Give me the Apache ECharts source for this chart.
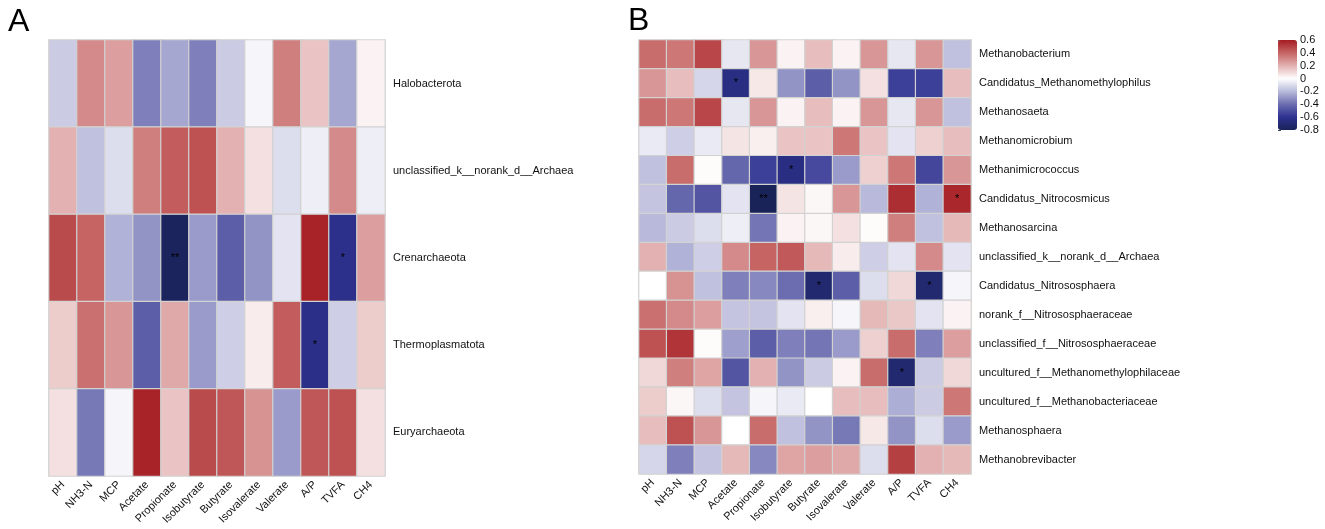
<!DOCTYPE html>
<html>
<head>
<meta charset="utf-8">
<script src="https://cdn.jsdelivr.net/npm/echarts@6/dist/echarts.min.js"></script>
<style>html,body{margin:0;padding:0;background:#fff}#c{width:1325px;height:529px}</style>
</head>
<body>
<div id="c"></div>
<script>
const factors = ['pH','NH3-N','MCP','Acetate','Propionate','Isobutyrate','Butyrate','Isovalerate','Valerate','A/P','TVFA','CH4'];
const phylaA = ['Halobacterota','unclassified_k__norank_d__Archaea','Crenarchaeota','Thermoplasmatota','Euryarchaeota'];
const generaB = ['Methanobacterium','Candidatus_Methanomethylophilus','Methanosaeta','Methanomicrobium','Methanimicrococcus','Candidatus_Nitrocosmicus','Methanosarcina','unclassified_k__norank_d__Archaea','Candidatus_Nitrososphaera','norank_f__Nitrososphaeraceae','unclassified_f__Nitrososphaeraceae','uncultured_f__Methanomethylophilaceae','uncultured_f__Methanobacteriaceae','Methanosphaera','Methanobrevibacter'];
const colorTicks = [0.6,0.4,0.2,0,-0.2,-0.4,-0.6,-0.8];

const corrA = [
  [-0.15, 0.30, 0.25,-0.35,-0.25,-0.35,-0.15,-0.03, 0.33, 0.15,-0.25, 0.03],
  [ 0.20,-0.18,-0.10, 0.33, 0.42, 0.45, 0.20, 0.08,-0.10,-0.05, 0.30,-0.05],
  [ 0.47, 0.40,-0.22,-0.30,-0.78,-0.28,-0.45,-0.30,-0.08, 0.58,-0.62, 0.25],
  [ 0.13, 0.37, 0.27,-0.45, 0.22,-0.28,-0.14, 0.05, 0.42,-0.63,-0.14, 0.13],
  [ 0.08,-0.37,-0.03, 0.58, 0.15, 0.47, 0.44, 0.28,-0.28, 0.44, 0.45, 0.08]
];
const sigA = [[2,4,'**'],[2,10,'*'],[3,9,'*']];

const corrB = [
  [ 0.38, 0.35, 0.48,-0.07, 0.27, 0.03, 0.17, 0.03, 0.27,-0.07, 0.27,-0.18],
  [ 0.27, 0.17,-0.12,-0.65, 0.06,-0.30,-0.45,-0.30, 0.08,-0.55,-0.55, 0.17],
  [ 0.38, 0.35, 0.48,-0.07, 0.27, 0.03, 0.17, 0.03, 0.27,-0.07, 0.27,-0.18],
  [-0.06,-0.14,-0.06, 0.07, 0.04, 0.15, 0.15, 0.35, 0.15,-0.08, 0.12, 0.17],
  [-0.18, 0.38, 0.01,-0.42,-0.55,-0.65,-0.52,-0.28, 0.12, 0.35,-0.53, 0.27],
  [-0.17,-0.42,-0.48,-0.08,-0.80, 0.07, 0.02, 0.27,-0.20, 0.55,-0.22, 0.57],
  [-0.20,-0.15,-0.10,-0.05,-0.38, 0.03, 0.02, 0.08, 0.01, 0.33,-0.18, 0.18],
  [ 0.20,-0.22,-0.14, 0.30, 0.40, 0.43, 0.18, 0.05,-0.14,-0.08, 0.30,-0.08],
  [ 0.00, 0.28,-0.18,-0.35,-0.33,-0.40,-0.72,-0.45,-0.10, 0.10,-0.72,-0.03],
  [ 0.37, 0.30, 0.25,-0.17,-0.17,-0.08, 0.04,-0.03, 0.18, 0.14,-0.08, 0.03],
  [ 0.45, 0.53, 0.01,-0.27,-0.45,-0.35,-0.38,-0.28, 0.12, 0.38,-0.35, 0.25],
  [ 0.10, 0.33, 0.23,-0.48, 0.20,-0.30,-0.15, 0.03, 0.38,-0.72,-0.15, 0.10],
  [ 0.13, 0.02,-0.10,-0.17,-0.03,-0.06, 0.00, 0.17, 0.17,-0.23,-0.15, 0.35],
  [ 0.17, 0.45, 0.27, 0.00, 0.38,-0.18,-0.30,-0.37, 0.06,-0.30,-0.10,-0.28],
  [-0.12,-0.35,-0.17, 0.18,-0.33, 0.23, 0.25, 0.22,-0.10, 0.50, 0.20, 0.18]
];
const sigB = [[1,3,'*'],[4,5,'*'],[5,4,'**'],[5,11,'*'],[8,6,'*'],[8,10,'*'],[11,9,'*']];

function build(vals, sig) {
  const m = {};
  sig.forEach(s => { m[s[0] + ',' + s[1]] = s[2]; });
  const d = [];
  vals.forEach((row, i) => row.forEach((v, j) => {
    d.push({ value: [j, i, v], mark: m[i + ',' + j] || '' });
  }));
  return d;
}

const FONT = "'Liberation Sans', Arial, sans-serif";
const chart = echarts.init(document.getElementById('c'), null, { renderer: 'canvas' });

function xAx(idx) {
  return {
    type: 'category', data: factors, gridIndex: idx,
    axisLine: { show: false }, axisTick: { show: false }, splitLine: { show: false },
    axisLabel: { rotate: 45, interval: 0, fontSize: 11, color: '#111', fontFamily: FONT, margin: 7 }
  };
}
function yAx(idx, cats) {
  return {
    type: 'category', data: cats, gridIndex: idx, inverse: true, position: 'right',
    axisLine: { show: false }, axisTick: { show: false }, splitLine: { show: false },
    axisLabel: { fontSize: 11, color: '#111', fontFamily: FONT, margin: 8 }
  };
}
function hm(idx, vals, sig) {
  return {
    type: 'heatmap', xAxisIndex: idx, yAxisIndex: idx, data: build(vals, sig),
    itemStyle: { borderColor: '#d2d2d2', borderWidth: 1.2 },
    label: { show: true, color: '#000', fontSize: 11, fontFamily: FONT,
      formatter: p => p.data.mark },
    emphasis: { disabled: true }
  };
}

chart.setOption({
  animation: false,
  backgroundColor: '#fff',
  title: [
    { text: 'A', left: 3, top: 1, textStyle: { fontSize: 32, fontWeight: 'normal', color: '#000', fontFamily: FONT } },
    { text: 'B', left: 623, top: 0, textStyle: { fontSize: 32, fontWeight: 'normal', color: '#000', fontFamily: FONT } }
  ],
  grid: [
    { left: 49, top: 40, width: 336, height: 436 },
    { left: 639, top: 40, width: 332, height: 434 },
    { left: 1278, top: 40, width: 19, height: 90 }
  ],
  xAxis: [xAx(0), xAx(1), { type: 'value', gridIndex: 2, show: false, min: 0, max: 1 }],
  yAxis: [yAx(0, phylaA), yAx(1, generaB), {
    type: 'value', gridIndex: 2, min: -0.8, max: 0.6, interval: 0.2, position: 'right',
    axisLine: { show: false }, splitLine: { show: false },
    axisTick: { show: true, length: 3, lineStyle: { color: '#444' } },
    axisLabel: { fontSize: 11, color: '#111', fontFamily: FONT, margin: 3,
      formatter: v => { const r = Math.round(v * 10) / 10; return colorTicks.indexOf(r) >= 0 ? String(r) : ''; } }
  }],
  visualMap: {
    type: 'continuous', min: -0.8, max: 0.6, seriesIndex: [0, 1],
    left: 1273, top: 35, itemWidth: 19, itemHeight: 90, calculable: false,
    hoverLink: false, text: ['', ''], padding: 5,
    indicatorSize: 0, handleSize: 0, indicatorStyle: { opacity: 0 },
    inRange: { color: ['#1a2358', '#2e3190', '#6b6db0', '#b9badb', '#ffffff', '#e3b1b1', '#c66464', '#a51c21'] }
  },
  series: [hm(0, corrA, sigA), hm(1, corrB, sigB)]
});
</script>
</body>
</html>
